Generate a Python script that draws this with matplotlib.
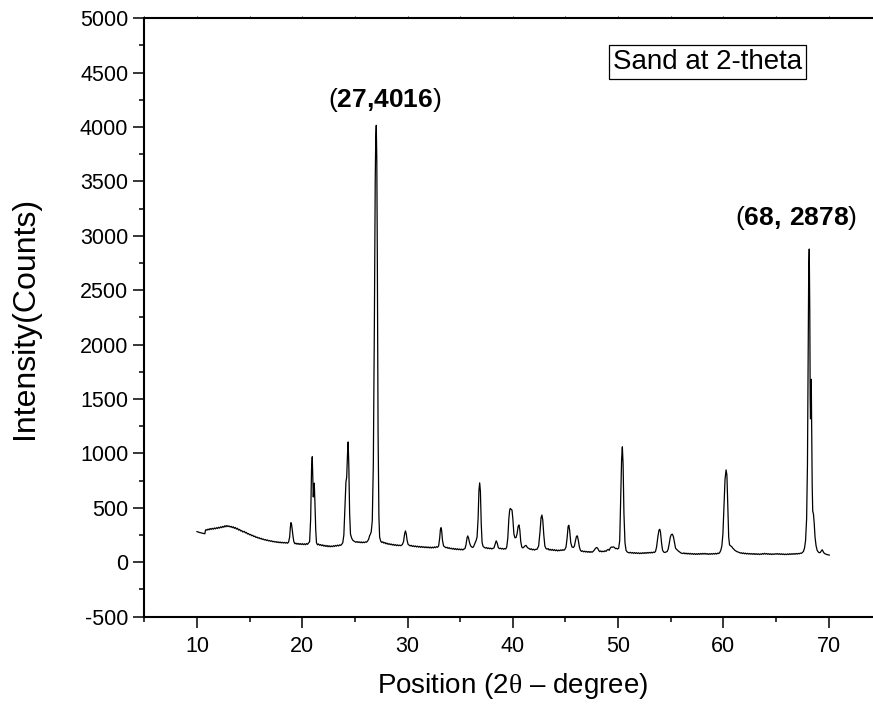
import matplotlib
matplotlib.use("Agg")
import matplotlib.pyplot as plt
from matplotlib.ticker import MultipleLocator

plt.rcParams['font.family'] = ['Liberation Sans', 'DejaVu Sans']
plt.rcParams['mathtext.fontset'] = 'custom'
plt.rcParams['mathtext.rm'] = 'Liberation Serif'
plt.rcParams['mathtext.bf'] = 'Liberation Sans:bold'
plt.rcParams['axes.unicode_minus'] = False

two_theta = [
10.00,10.10,10.20,10.30,10.40,10.50,10.60,10.75,10.80,10.85,10.95,11.05,11.15,11.25,11.35,11.45,11.55,11.65,11.75,11.85,
11.95,12.05,12.15,12.25,12.35,12.45,12.55,12.65,12.75,12.85,12.95,13.05,13.15,13.25,13.35,13.45,13.55,13.65,13.75,13.85,
13.95,14.05,14.15,14.25,14.35,14.5,14.6,14.7,14.8,14.9,15.0,15.1,15.2,15.3,15.4,15.5,15.6,15.7,15.8,15.9,
16.0,16.1,16.2,16.3,16.4,16.5,16.6,16.7,16.8,16.9,17.0,17.1,17.2,17.3,17.4,17.5,17.6,17.7,17.8,17.9,
18.0,18.1,18.2,18.3,18.4,18.5,18.6,18.7,18.8,18.88,18.93,18.98,19.05,19.12,19.2,19.3,19.4,19.5,19.6,19.7,
19.8,19.9,20.0,20.1,20.2,20.3,20.4,20.5,20.6,20.7,20.8,20.88,20.95,21.0,21.05,21.1,21.14,21.2,21.28,21.35,
21.45,21.55,21.65,21.75,21.85,21.95,22.05,22.15,22.25,22.35,22.45,22.55,22.65,22.75,22.85,22.95,23.05,23.15,23.25,23.35,
23.45,23.55,23.65,23.75,23.85,23.95,24.05,24.15,24.22,24.3,24.36,24.42,24.5,24.58,24.68,24.78,24.9,25.0,25.1,25.2,
25.3,25.4,25.5,25.6,25.7,25.8,25.9,26.0,26.1,26.2,26.3,26.4,26.48,26.55,26.65,26.75,26.85,26.93,26.98,27.03,
27.08,27.13,27.2,27.28,27.35,27.45,27.55,27.65,27.75,27.85,27.95,28.05,28.15,28.25,28.35,28.45,28.55,28.65,28.75,28.85,
28.95,29.05,29.15,29.25,29.35,29.5,29.62,29.72,29.8,29.88,29.96,30.05,30.15,30.25,30.35,30.45,30.55,30.65,30.75,30.85,
30.95,31.05,31.15,31.25,31.35,31.45,31.55,31.65,31.75,31.85,31.95,32.05,32.15,32.25,32.35,32.45,32.55,32.65,32.75,32.85,
32.95,33.05,33.12,33.18,33.24,33.32,33.42,33.55,33.65,33.75,33.85,33.95,34.05,34.15,34.25,34.35,34.45,34.55,34.65,34.75,
34.85,34.95,35.05,35.15,35.25,35.35,35.45,35.55,35.65,35.72,35.8,35.9,36.0,36.1,36.2,36.3,36.4,36.5,36.6,36.7,
36.78,36.85,36.92,37.0,37.08,37.18,37.3,37.4,37.5,37.6,37.7,37.8,37.9,38.0,38.1,38.2,38.3,38.42,38.52,38.62,
38.72,38.82,38.92,39.02,39.12,39.22,39.32,39.42,39.52,39.62,39.7,39.76,39.85,39.92,40.0,40.1,40.2,40.3,40.4,40.5,
40.58,40.66,40.75,40.85,40.95,41.05,41.15,41.25,41.35,41.45,41.55,41.65,41.75,41.85,41.95,42.05,42.15,42.3,42.45,42.58,
42.68,42.76,42.84,42.94,43.04,43.14,43.25,43.35,43.45,43.55,43.65,43.75,43.85,43.95,44.05,44.15,44.25,44.35,44.45,44.55,
44.65,44.75,44.85,44.95,45.05,45.15,45.25,45.32,45.4,45.5,45.62,45.75,45.85,45.95,46.05,46.13,46.22,46.32,46.42,46.52,
46.62,46.72,46.82,46.92,47.02,47.12,47.22,47.32,47.42,47.52,47.62,47.72,47.85,47.95,48.05,48.15,48.25,48.35,48.45,48.55,
48.65,48.75,48.85,48.95,49.05,49.15,49.25,49.35,49.45,49.55,49.65,49.75,49.85,49.95,50.05,50.15,50.25,50.33,50.4,50.47,
50.55,50.65,50.75,50.85,50.95,51.05,51.15,51.25,51.35,51.45,51.55,51.65,51.75,51.85,51.95,52.05,52.15,52.25,52.35,52.45,
52.55,52.65,52.75,52.85,52.95,53.05,53.15,53.25,53.35,53.45,53.55,53.65,53.78,53.88,53.95,54.02,54.12,54.22,54.35,54.45,
54.55,54.65,54.75,54.85,54.95,55.05,55.15,55.25,55.35,55.45,55.55,55.65,55.75,55.85,55.95,56.05,56.15,56.25,56.35,56.45,
56.55,56.65,56.75,56.85,56.95,57.05,57.15,57.25,57.35,57.45,57.55,57.65,57.75,57.85,57.95,58.05,58.15,58.25,58.35,58.45,
58.55,58.65,58.75,58.85,58.95,59.05,59.15,59.25,59.35,59.45,59.55,59.65,59.75,59.85,59.95,60.05,60.15,60.25,60.33,60.42,
60.5,60.58,60.68,60.78,60.88,60.98,61.08,61.18,61.28,61.38,61.5,61.6,61.7,61.8,61.9,62.0,62.1,62.2,62.3,62.4,
62.5,62.6,62.7,62.8,62.9,63.0,63.1,63.2,63.3,63.4,63.5,63.6,63.7,63.8,63.9,64.0,64.1,64.2,64.3,64.4,
64.5,64.6,64.7,64.8,64.9,65.0,65.1,65.2,65.3,65.4,65.5,65.6,65.7,65.8,65.9,66.0,66.1,66.2,66.3,66.4,
66.5,66.6,66.7,66.8,66.9,67.0,67.1,67.2,67.3,67.4,67.5,67.6,67.7,67.8,67.9,67.98,68.05,68.1,68.15,68.2,
68.24,68.27,68.3,68.34,68.38,68.43,68.48,68.55,68.62,68.7,68.8,68.9,69.0,69.1,69.2,69.3,69.38,69.46,69.55,69.65,
69.75,69.85,69.95,70.05]

counts = [
282,278,275,272,270,268,266,262,290,300,295,305,298,310,302,312,304,315,307,318,
310,322,314,326,318,330,322,336,326,338,328,334,324,330,318,326,312,320,305,312,
296,302,288,292,278,284,270,274,260,264,252,256,244,248,236,240,228,232,222,226,
216,220,210,214,205,209,200,205,196,200,192,197,188,193,185,190,182,188,180,186,
178,184,177,183,176,182,175,185,230,330,364,350,300,240,190,170,176,166,174,164,
172,163,171,162,170,161,172,165,178,190,400,850,970,780,600,700,727,560,300,180,
160,168,156,163,152,160,148,156,145,154,143,152,142,150,143,152,145,155,148,158,
150,160,155,165,180,250,500,740,780,1000,1106,900,450,260,225,205,195,190,184,190,
182,188,180,187,179,186,180,188,184,195,210,245,260,280,380,900,2200,3500,3900,4016,
3700,2800,1200,420,230,195,182,188,176,182,170,176,165,171,162,168,158,165,155,162,
153,160,152,158,152,162,190,260,288,260,200,165,158,150,156,146,152,143,150,141,
148,139,146,137,145,136,143,134,142,133,141,132,140,131,139,132,141,134,143,138,
150,220,300,318,290,200,150,140,133,138,128,134,124,130,121,128,118,126,116,124,
115,122,114,121,113,122,125,160,225,242,220,175,150,140,136,150,175,197,230,400,
660,730,650,350,180,145,136,130,136,126,132,124,130,122,128,130,160,197,175,135,
125,130,122,128,120,126,122,140,220,400,480,495,485,480,400,260,225,227,260,330,
343,300,190,140,132,140,150,155,140,130,126,118,124,114,120,112,118,120,150,280,
410,434,390,250,150,127,120,126,112,120,110,118,108,116,106,114,104,112,106,114,
108,116,110,120,140,220,330,340,290,180,140,136,150,200,240,242,200,140,110,100,
105,96,102,94,100,92,99,91,98,92,100,110,128,136,130,110,98,104,96,102,
97,106,100,112,118,110,130,140,138,142,136,125,128,122,130,200,600,950,1061,900,
450,180,110,96,90,86,92,84,90,82,89,81,88,80,87,79,86,80,88,81,
89,82,90,84,91,85,92,86,94,90,100,140,240,295,303,280,180,110,92,90,
95,98,120,170,230,255,258,235,180,130,118,110,100,94,86,83,80,86,78,84,
76,83,75,82,74,80,73,80,72,79,72,80,73,81,74,82,75,82,74,80,
72,79,73,80,74,81,75,82,76,84,80,90,110,150,260,500,760,849,800,500,
230,160,150,145,130,121,110,104,98,94,90,84,88,80,86,78,84,76,82,75,
81,74,80,73,80,72,79,72,78,71,77,72,80,74,82,75,81,73,79,72,
78,71,77,72,79,74,80,73,79,72,78,71,77,70,76,70,77,71,78,72,
79,73,80,74,81,75,82,77,84,82,90,100,130,200,400,900,2000,2700,2879,2300,
1500,1318,1550,1682,1200,700,470,443,360,230,150,110,95,88,90,105,115,100,85,78,
74,70,68,66]

x_major = [10, 20, 30, 40, 50, 60, 70]
y_major = list(range(-500, 5001, 500))
peak_labels = [(27.8, 4250, r"($\mathbf{27{,}4016}$)"), (66.9, 3160, r"($\mathbf{68{,}\ 2878}$)")]

fig = plt.figure(figsize=(8.73, 7.08), dpi=100)
ax = fig.add_axes([0.1653, 0.129, 0.8443, 0.8452])
ax.plot(two_theta, counts, color='black', lw=0.9)

ax.set_xlim(5, 75)
ax.set_ylim(-500, 5000)
ax.set_xticks(x_major)
ax.xaxis.set_minor_locator(MultipleLocator(5))
ax.set_yticks(y_major)
ax.yaxis.set_minor_locator(MultipleLocator(250))

ax.spines['right'].set_visible(False)
for s in ['left', 'bottom', 'top']:
    ax.spines[s].set_linewidth(1.5)

ax.tick_params(axis='both', which='major', direction='out', length=8, width=1.1,
               labelsize=15.5, pad=6)
ax.tick_params(axis='y', which='major', pad=3.5)
ax.tick_params(axis='both', which='minor', direction='out', length=3.6, width=1.1)
ax.tick_params(axis='x', which='both', top=True, labeltop=False)
ax.tick_params(axis='y', which='both', right=False)
for t in ax.xaxis.get_major_ticks() + ax.xaxis.get_minor_ticks():
    t.tick2line.set_markersize(1.5)
    t.tick2line.set_markeredgewidth(0.6)
    t.tick2line.set_color('#999999')

ax.set_xlabel("Position (2$\\mathrm{\\theta}$ – degree)", fontsize=20, labelpad=10)
ax.set_ylabel("Intensity(Counts)", fontsize=23)
ax.yaxis.set_label_coords(-0.142, 0.5)

for (lx, ly, txt) in peak_labels:
    ax.text(lx, ly, txt, fontsize=19, ha='center', va='center')

ax.text(58.45, 4600, "Sand at 2-theta", fontsize=20, ha='center', va='center',
        bbox=dict(boxstyle='square,pad=0.14', facecolor='white', edgecolor='black', lw=0.9))

fig.savefig("out.png", dpi=100)
